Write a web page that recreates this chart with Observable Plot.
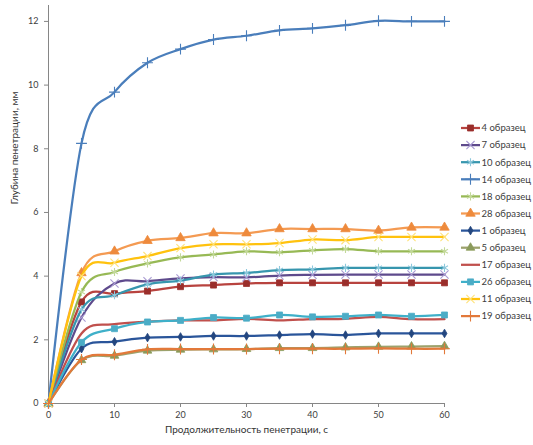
<!DOCTYPE html>
<html>
<head>
<meta charset="utf-8">
<script src="https://cdn.jsdelivr.net/npm/d3@7"></script>
<script src="https://cdn.jsdelivr.net/npm/@observablehq/plot@0.6"></script>
<style>
  body { margin: 0; background: white; }
  #chart { width: 533px; height: 445px; }
</style>
</head>
<body>
<div id="chart"></div>
<script>
const times = [0, 5, 10, 15, 20, 25, 30, 35, 40, 45, 50, 55, 60];
const xTicks = [0, 10, 20, 30, 40, 50, 60];
const yTicks = [0, 2, 4, 6, 8, 10, 12];
const xTitle = "Продолжительность пенетрации, с";
const yTitle = "Глубина пенетрации, мм";

const seriesNames = ["4 образец", "7 образец", "10 образец", "14 образец", "18 образец", "28 образец",
                     "1 образец", "5 образец", "17 образец", "26 образец", "11 образец", "19 образец"];

const s4  = [0, 3.19, 3.45, 3.53, 3.67, 3.72, 3.77, 3.79, 3.79, 3.79, 3.79, 3.79, 3.79];
const s7  = [0, 2.70, 3.77, 3.84, 3.93, 3.97, 3.96, 4.02, 4.04, 4.05, 4.05, 4.05, 4.05];
const s10 = [0, 2.95, 3.40, 3.74, 3.86, 4.05, 4.10, 4.19, 4.21, 4.26, 4.26, 4.26, 4.26];
const s14 = [0, 8.17, 9.78, 10.70, 11.13, 11.43, 11.55, 11.72, 11.78, 11.88, 12.02, 12.00, 12.00];
const s18 = [0, 3.50, 4.13, 4.40, 4.59, 4.68, 4.78, 4.75, 4.81, 4.85, 4.78, 4.78, 4.78];
const s28 = [0, 4.10, 4.78, 5.11, 5.20, 5.35, 5.35, 5.48, 5.48, 5.48, 5.43, 5.53, 5.53];
const s1  = [0, 1.72, 1.94, 2.07, 2.09, 2.12, 2.12, 2.15, 2.18, 2.15, 2.20, 2.20, 2.20];
const s5  = [0, 1.36, 1.50, 1.66, 1.69, 1.70, 1.71, 1.74, 1.74, 1.76, 1.78, 1.79, 1.80];
const s17 = [0, 2.20, 2.49, 2.57, 2.61, 2.61, 2.66, 2.61, 2.65, 2.66, 2.72, 2.65, 2.65];
const s26 = [0, 1.92, 2.35, 2.56, 2.61, 2.70, 2.68, 2.78, 2.72, 2.74, 2.78, 2.74, 2.78];
const s11 = [0, 4.00, 4.42, 4.63, 4.88, 5.00, 5.00, 5.04, 5.15, 5.13, 5.23, 5.23, 5.23];
const s19 = [0, 1.38, 1.53, 1.70, 1.71, 1.71, 1.71, 1.72, 1.72, 1.72, 1.73, 1.72, 1.72];

const seriesValues = [s4, s7, s10, s14, s18, s28, s1, s5, s17, s26, s11, s19];

const styles = [
  {line: "#B8433F", sym: "square",   mc: "#9A2E2B", fill: true,  r: 3.4},
  {line: "#5E4A8C", sym: "times",    mc: "#A99BD3", fill: false, r: 3.8},
  {line: "#3796AE", sym: "asterisk", mc: "#8DC8DC", fill: false, r: 3.8},
  {line: "#4A7EBB", sym: "plus",     mc: "#4A7EBB", fill: false, r: 3.6},
  {line: "#97B955", sym: "asterisk", mc: "#C3D99A", fill: false, r: 3.8},
  {line: "#F49A52", sym: "triangle", mc: "#EE8A3C", fill: true,  r: 3.5},
  {line: "#2A559A", sym: "diamond",  mc: "#23467F", fill: true,  r: 2.6},
  {line: "#9CA26C", sym: "triangle", mc: "#8A9A5B", fill: true,  r: 3.2},
  {line: "#C0504D", sym: null,       mc: null,      fill: false, r: 0},
  {line: "#3FB0C9", sym: "square",   mc: "#4BACC6", fill: true,  r: 3.4},
  {line: "#FFC20E", sym: "times",    mc: "#FFE27A", fill: false, r: 3.8},
  {line: "#E2793A", sym: "plus",     mc: "#E2793A", fill: false, r: 3.6}
];

const rows = [];
seriesNames.forEach((name, i) => {
  times.forEach((t, j) => rows.push({t, v: seriesValues[i][j], series: name, idx: i}));
});

const marks = [
  Plot.ruleX([0], {stroke: "#868686", strokeWidth: 1}),
  Plot.ruleY([0], {stroke: "#868686", strokeWidth: 1}),
  Plot.axisX({ticks: xTicks, tickSize: 4, tickPadding: 4, stroke: "#868686", fill: "#404040",
              fontSize: 9, label: null}),
  Plot.axisY({ticks: yTicks, tickSize: 4, tickPadding: 6, stroke: "#868686", fill: "#404040",
              fontSize: 9, label: null}),
  Plot.text([xTitle], {frameAnchor: "bottom", dy: 29, fontSize: 10, fill: "#333333"}),
  Plot.text([yTitle], {frameAnchor: "left", dx: -34, rotate: -90, fontSize: 10, fill: "#333333"})
];

seriesNames.forEach((name, i) => {
  const st = styles[i];
  const data = rows.filter(d => d.idx === i);
  marks.push(Plot.line(data, {x: "t", y: "v", stroke: st.line, strokeWidth: 2.25, curve: "cardinal"}));
  if (st.sym) {
    if (st.fill) {
      marks.push(Plot.dot(data, {x: "t", y: "v", symbol: st.sym, r: st.r, fill: st.mc, stroke: st.mc, strokeWidth: 0.8}));
    } else {
      marks.push(Plot.dot(data, {x: "t", y: "v", symbol: st.sym, r: st.r, fill: "none", stroke: st.mc, strokeWidth: 1.1}));
    }
  }
});

const chart = Plot.plot({
  width: 533,
  height: 445,
  marginLeft: 48,
  marginRight: 89,
  marginTop: 5,
  marginBottom: 42,
  style: {fontFamily: "Lato, 'Open Sans', sans-serif", fontSize: "9px", color: "#404040", background: "white"},
  x: {domain: [0, 60]},
  y: {domain: [0, 12.5]},
  marks
});

// legend
const symMap = {square: d3.symbolSquare, times: d3.symbolTimes, asterisk: d3.symbolAsterisk,
                plus: d3.symbolPlus, triangle: d3.symbolTriangle, diamond: d3.symbolDiamond};
const svg = d3.select(chart);
const lg = svg.append("g").attr("font-family", "Lato, 'Open Sans', sans-serif")
  .attr("font-size", 9.5).attr("text-anchor", "start");
seriesNames.forEach((name, i) => {
  const st = styles[i];
  const y = 128 + i * 17.1;
  const g = lg.append("g").attr("transform", `translate(0,${y})`);
  g.append("line").attr("x1", 461).attr("x2", 480).attr("y1", 0).attr("y2", 0)
    .attr("stroke", st.line).attr("stroke-width", 2.25);
  if (st.sym) {
    const p = d3.symbol(symMap[st.sym], Math.PI * st.r * st.r)();
    g.append("path").attr("d", p).attr("transform", "translate(470.5,0)")
      .attr("fill", st.fill ? st.mc : "none").attr("stroke", st.mc)
      .attr("stroke-width", st.fill ? 0.8 : 1.1);
  }
  g.append("text").attr("x", 481.5).attr("y", 0).attr("dy", "0.35em")
    .attr("text-anchor", "start").attr("fill", "#404040").text(name);
});

document.getElementById("chart").appendChild(chart);
</script>
</body>
</html>
